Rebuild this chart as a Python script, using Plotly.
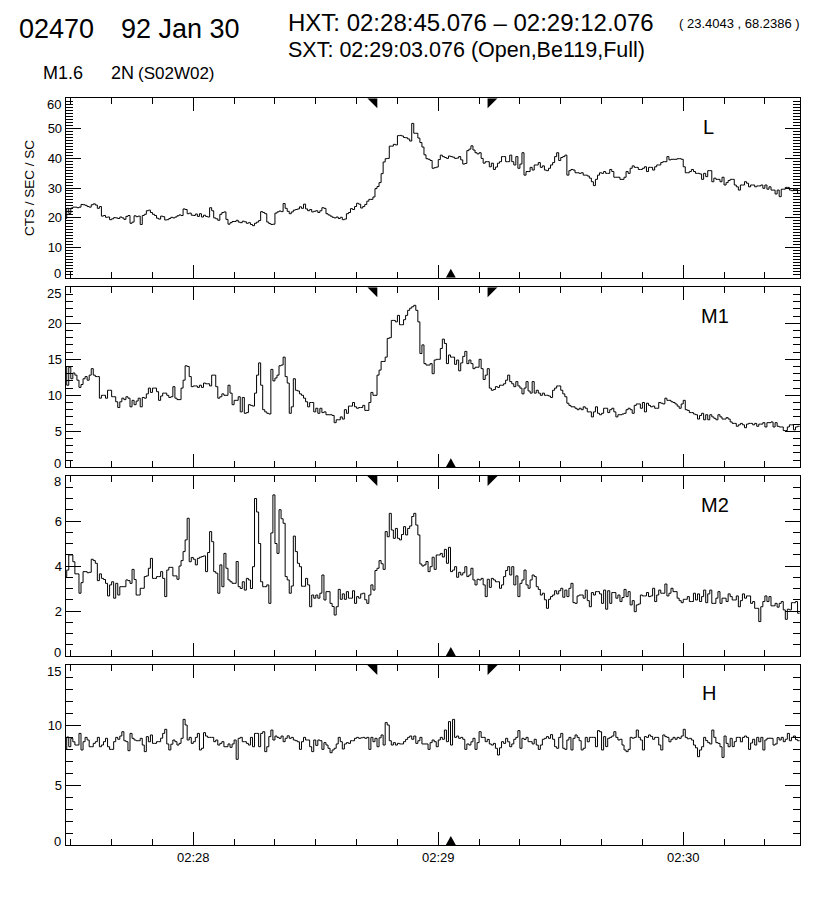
import numpy as np
import plotly.graph_objects as go

# ---------------- data ----------------
bin_start = 28.5          # seconds after 02:27:00 of first 0.5 s bin
bin_width = 0.5
x_range = [28.75, 208.6]  # seconds after 02:27:00
minute_ticks = [60, 120, 180]
minute_labels = ["02:28", "02:29", "02:30"]

hxt_start = 105.076       # 02:28:45.076
hxt_end = 132.076         # 02:29:12.076
sxt_time = 123.076        # 02:29:03.076

panel_names = ["L", "M1", "M2", "H"]
y_tops = [60, 25, 8, 15]
y_majors = [10, 5, 2, 5]
y_minors = [1, 1, 0.5, 1]

L_counts = [
    19.8, 23.2, 21.5,
    23.3, 23.6, 23.6, 23.4, 23.6, 24.5, 24.4, 24.2, 23.8, 23.6, 24.4, 24.7, 24.3, 23.2, 23.8, 20.6, 20.8, 20.2, 20.3, 19.4,
    19.7, 20.1, 20.0, 19.8, 20.3, 20.0, 19.5, 20.5, 20.8, 18.2, 18.6, 20.7, 20.4, 20.6, 17.8, 20.8, 21.2, 22.4, 22.6, 21.8,
    21.2, 20.8, 19.9, 19.6, 20.6, 20.4, 19.3, 19.4, 19.8, 20.2, 20.0, 20.3, 20.7, 21.0, 20.8, 23.0, 22.8, 21.4, 21.6, 20.9,
    20.8, 21.3, 20.5, 21.4, 20.3, 20.9, 20.5, 20.3, 23.4, 22.4, 20.0, 19.7, 19.2, 21.2, 21.8, 22.0, 19.5, 17.9, 18.4, 18.8,
    18.8, 19.2, 18.6, 18.4, 18.9, 18.7, 18.2, 18.4, 17.8, 17.4, 18.2, 18.6, 19.1, 22.1, 21.8, 21.4, 18.6, 18.1, 17.8, 17.9,
    21.6, 22.0, 22.3, 22.1, 24.8, 23.2, 22.2, 21.4, 22.0, 22.6, 22.8, 23.0, 23.7, 23.2, 24.6, 23.0, 22.4, 22.8, 22.0, 22.2,
    22.4, 21.8, 22.4, 23.4, 23.2, 21.4, 21.0, 20.6, 20.2, 20.0, 20.3, 19.8, 20.2, 19.4, 19.6, 21.4, 21.8, 23.1, 22.8, 23.8,
    24.9, 24.6, 23.3, 23.8, 24.5, 25.6, 26.2, 26.2, 27.0, 29.8, 30.5, 31.8, 34.8, 38.7, 39.8, 39.9, 44.0, 44.0, 44.6, 44.4,
    47.5, 47.6, 47.4, 46.9, 46.8, 46.4, 45.7, 51.6, 48.3, 48.3, 46.7, 45.2, 43.7, 41.1, 39.8, 39.6, 39.2, 36.6, 36.8, 37.0,
    39.5, 41.0, 40.5, 40.2, 39.9, 40.7, 40.5, 40.3, 39.9, 40.0, 40.5, 39.4, 38.0, 38.2, 42.5, 43.0, 44.1, 42.7, 41.8, 41.4,
    41.8, 39.9, 38.3, 38.8, 38.8, 37.1, 38.3, 36.2, 37.0, 38.3, 38.8, 40.5, 40.5, 38.8, 38.8, 41.0, 38.8, 37.7, 40.5, 36.6,
    38.0, 41.8, 34.3, 35.5, 35.5, 36.9, 36.0, 37.7, 37.7, 38.5, 36.9, 37.4, 36.0, 35.8, 36.6, 37.7, 38.5, 40.5, 41.8, 39.2,
    40.2, 40.5, 41.0, 34.3, 35.8, 36.2, 36.0, 35.1, 35.1, 34.9, 35.1, 34.3, 34.3, 34.0, 33.3, 32.1, 30.8, 32.9, 34.3, 35.1,
    34.9, 35.5, 34.9, 34.9, 36.2, 35.5, 33.6, 33.6, 33.6, 32.9, 32.9, 33.6, 35.5, 34.9, 36.6, 37.4, 36.9, 36.9, 36.2, 36.2,
    36.6, 37.1, 35.5, 36.9, 36.9, 36.0, 37.1, 37.7, 37.7, 38.5, 38.8, 38.8, 40.5, 39.4, 39.6, 39.6, 39.6, 39.8, 39.8, 39.6,
    37.1, 35.1, 35.1, 35.5, 36.2, 35.5, 34.9, 34.9, 34.7, 32.9, 34.9, 33.8, 35.8, 35.8, 32.1, 33.3, 32.9, 32.9, 32.1, 33.6,
    31.0, 31.8, 32.5, 32.9, 32.9, 31.0, 30.4, 29.3, 31.0, 31.0, 32.1, 31.6, 30.4, 31.0, 31.0, 30.4, 30.7, 30.7, 31.0, 29.9,
    31.0, 29.6, 30.4, 29.3, 29.3, 28.0, 29.3, 27.1, 29.6, 29.6, 30.2, 30.2, 29.3, 29.1, 29.6, 29.6, 28.2,
]

M1_counts = [
    13.9, 11.4, 13.9,
    12.3, 13.1, 12.8, 12.1, 11.1, 11.5, 12.3, 12.6, 12.1, 12.8, 13.7, 12.8, 12.6, 12.6, 9.6, 10.0, 10.0, 9.6, 10.7, 10.7,
    9.8, 9.8, 9.1, 8.3, 9.1, 9.6, 9.4, 9.8, 9.6, 8.4, 9.3, 8.7, 9.2, 9.6, 8.4, 9.7, 9.6, 10.2, 11.0, 10.4,
    11.0, 11.0, 10.5, 9.3, 9.9, 10.3, 10.3, 10.0, 9.7, 9.8, 11.2, 9.6, 9.4, 9.4, 11.0, 12.1, 14.1, 14.0, 12.6, 11.2,
    11.3, 11.3, 11.1, 11.4, 11.1, 11.7, 11.6, 11.6, 11.3, 12.8, 12.8, 11.2, 9.6, 9.8, 10.2, 10.0, 10.0, 11.4, 10.3, 8.7,
    9.3, 9.3, 9.8, 7.7, 9.7, 7.5, 7.6, 8.7, 8.6, 8.5, 10.3, 12.8, 14.5, 11.4, 8.0, 7.7, 7.5, 7.4, 13.6, 12.0,
    12.4, 12.8, 14.1, 14.2, 15.3, 12.6, 11.7, 7.5, 8.4, 12.3, 10.7, 10.6, 10.2, 10.0, 9.6, 9.1, 8.4, 9.0, 9.0, 7.7,
    8.2, 7.5, 8.2, 7.6, 7.7, 7.3, 7.3, 7.3, 7.2, 6.2, 6.6, 6.6, 7.0, 6.7, 8.0, 7.5, 8.5, 8.5, 9.0, 8.4,
    8.2, 8.3, 8.3, 8.6, 7.9, 7.9, 9.0, 10.4, 10.0, 10.0, 12.8, 13.5, 14.7, 14.7, 15.3, 17.9, 18.0, 20.4, 20.4, 20.2,
    21.1, 19.8, 19.8, 20.5, 21.1, 21.8, 22.1, 22.3, 22.5, 21.8, 20.2, 15.8, 17.0, 14.4, 14.2, 14.2, 14.4, 13.0, 14.9, 15.0,
    15.0, 16.5, 17.8, 17.2, 14.4, 15.6, 15.3, 15.3, 14.3, 14.9, 13.4, 14.5, 15.4, 16.1, 14.4, 14.9, 14.4, 13.7, 13.9, 13.9,
    15.0, 13.7, 12.2, 12.8, 13.7, 11.0, 10.7, 10.8, 11.2, 11.1, 11.4, 11.4, 11.6, 12.1, 12.8, 11.9, 11.6, 11.2, 11.9, 11.3,
    11.0, 10.2, 11.0, 11.9, 10.6, 10.3, 11.9, 10.3, 10.7, 10.3, 10.0, 10.3, 10.0, 10.0, 9.9, 9.7, 10.7, 11.0, 11.3, 11.3,
    10.7, 10.2, 9.8, 8.9, 8.6, 8.4, 8.4, 8.2, 8.0, 8.2, 8.0, 8.4, 8.2, 7.7, 7.7, 7.0, 7.7, 8.4, 7.5, 7.3,
    7.5, 8.2, 8.2, 7.6, 8.0, 8.2, 7.7, 7.0, 7.3, 7.3, 7.4, 7.5, 8.0, 8.2, 8.0, 7.5, 8.6, 8.8, 8.8, 8.2,
    9.0, 7.7, 8.9, 8.6, 8.4, 8.5, 8.2, 8.2, 9.0, 8.9, 8.8, 9.6, 9.3, 9.3, 9.1, 9.0, 8.8, 8.5, 8.2, 8.8,
    9.3, 8.0, 7.9, 7.6, 7.6, 7.4, 7.3, 6.7, 7.2, 7.5, 6.6, 7.3, 6.6, 7.3, 7.0, 6.8, 6.6, 7.3, 7.0, 6.7,
    6.7, 6.9, 6.7, 6.3, 6.1, 6.1, 5.7, 5.9, 6.1, 5.9, 5.5, 6.0, 6.1, 6.1, 5.9, 6.1, 5.7, 6.0, 6.0, 6.2,
    5.6, 6.2, 6.2, 6.3, 5.6, 6.2, 5.7, 5.6, 5.6, 5.1, 5.1, 5.6, 5.9, 5.9, 5.2, 5.6, 5.7,
]

M2_counts = [
    3.53, 3.82, 4.49,
    4.49, 4.19, 3.65, 3.65, 2.79, 3.26, 3.75, 3.75, 3.70, 3.72, 4.30, 4.24, 4.12, 3.35, 3.65, 3.45, 3.40, 3.23, 2.67, 3.16,
    3.30, 2.57, 3.23, 2.71, 3.08, 3.08, 3.08, 3.38, 3.35, 3.23, 3.85, 3.40, 2.71, 2.71, 3.01, 3.01, 3.53, 3.56, 3.90, 4.34,
    3.45, 3.45, 3.53, 3.53, 3.75, 3.45, 2.64, 3.82, 3.94, 3.94, 3.56, 3.56, 3.41, 4.00, 4.24, 4.64, 5.16, 6.12, 4.19, 4.38,
    4.30, 4.05, 4.34, 4.39, 4.42, 4.45, 3.75, 4.60, 5.53, 5.08, 3.75, 3.68, 2.79, 4.05, 3.08, 4.56, 3.90, 3.38, 3.30, 3.23,
    3.23, 4.20, 3.08, 3.00, 3.30, 2.93, 3.45, 3.38, 3.00, 3.97, 7.00, 6.40, 5.00, 3.30, 3.08, 3.08, 3.16, 2.34, 5.47, 7.16,
    5.00, 4.56, 6.50, 6.10, 5.90, 3.53, 3.38, 2.79, 3.11, 5.33, 4.64, 4.12, 3.97, 3.10, 3.10, 3.45, 3.16, 2.19, 2.71, 2.57,
    2.71, 2.57, 2.79, 3.60, 2.49, 2.86, 2.86, 2.34, 2.20, 1.82, 2.19, 2.96, 2.52, 2.76, 2.52, 2.86, 2.57, 2.57, 2.90, 2.34,
    2.64, 2.57, 2.76, 2.79, 2.50, 2.34, 2.71, 3.16, 2.93, 3.80, 3.90, 4.24, 4.10, 3.85, 5.53, 5.30, 6.34, 5.60, 5.23, 5.67,
    5.23, 5.16, 5.40, 5.75, 5.38, 5.67, 5.78, 6.20, 6.34, 5.82, 5.38, 4.09, 4.00, 4.05, 4.20, 3.75, 3.97, 4.39, 3.85, 4.49,
    4.49, 4.56, 4.40, 4.74, 4.12, 4.83, 3.75, 3.82, 3.97, 3.50, 3.72, 3.60, 3.70, 3.97, 3.53, 3.60, 3.90, 3.38, 3.16, 3.41,
    3.38, 3.45, 3.16, 2.64, 3.41, 3.05, 3.45, 3.38, 3.30, 3.30, 3.01, 3.16, 3.53, 3.80, 3.97, 3.60, 3.97, 3.16, 3.56, 2.64,
    3.23, 3.38, 3.82, 3.16, 3.01, 3.38, 3.60, 3.53, 3.08, 2.96, 2.71, 2.79, 2.50, 2.12, 2.52, 2.64, 2.71, 2.90, 2.76, 2.90,
    3.01, 2.61, 2.93, 2.64, 3.01, 3.23, 2.37, 2.34, 2.67, 2.71, 2.71, 2.57, 2.93, 2.46, 2.19, 2.82, 2.71, 2.86, 2.86, 2.76,
    2.34, 2.93, 2.08, 2.90, 2.34, 2.82, 2.82, 2.57, 2.71, 2.42, 2.60, 2.96, 2.64, 2.86, 2.27, 2.46, 1.97, 2.27, 2.31, 2.71,
    2.67, 2.67, 2.82, 2.64, 2.67, 3.01, 2.42, 2.71, 2.93, 2.79, 2.79, 3.20, 2.67, 2.79, 3.01, 2.86, 2.86, 2.57, 2.46, 2.37,
    2.52, 2.52, 2.64, 2.42, 2.42, 2.79, 2.49, 2.76, 2.42, 2.64, 2.93, 2.37, 2.76, 2.93, 2.34, 2.34, 2.57, 2.86, 2.34, 2.57,
    2.57, 2.42, 2.76, 2.64, 2.49, 2.49, 2.67, 2.19, 2.46, 2.76, 2.57, 2.67, 2.67, 2.34, 2.42, 2.12, 2.12, 1.53, 2.19, 2.42,
    2.67, 2.42, 2.64, 2.23, 2.23, 2.34, 2.17, 2.34, 2.42, 2.05, 1.63, 2.08, 2.05, 2.37, 2.37, 2.42, 1.90,
]

H_counts = [
    8.00, 9.00, 8.19,
    8.89, 8.60, 8.33, 8.33, 9.30, 7.92, 8.61, 8.97, 8.75, 8.19, 8.19, 8.47, 8.61, 8.97, 8.19, 8.33, 8.61, 8.89, 8.19, 7.97,
    7.97, 8.61, 8.97, 8.81, 9.08, 9.44, 8.69, 8.61, 7.86, 9.30, 8.89, 8.75, 8.69, 8.69, 8.89, 8.33, 7.78, 9.03, 8.60, 9.17,
    8.47, 8.47, 8.61, 8.61, 8.90, 9.30, 9.64, 8.42, 7.92, 8.40, 8.75, 8.61, 8.33, 8.47, 8.89, 10.47, 10.00, 8.75, 8.97, 8.47,
    8.61, 8.97, 9.30, 7.92, 8.06, 9.36, 9.08, 8.97, 8.97, 8.97, 8.61, 8.75, 8.33, 8.47, 8.61, 8.19, 8.19, 8.42, 8.14, 8.42,
    8.75, 7.14, 8.89, 8.97, 8.61, 8.61, 8.47, 8.33, 8.97, 8.19, 9.30, 9.30, 8.19, 9.30, 9.44, 7.78, 8.19, 9.03, 9.58, 8.75,
    9.08, 8.97, 8.89, 9.08, 8.61, 8.89, 9.10, 8.89, 8.97, 8.75, 8.69, 8.60, 7.97, 8.61, 8.97, 8.75, 8.75, 8.19, 7.78, 8.75,
    8.30, 8.75, 8.69, 7.97, 8.53, 8.33, 8.06, 7.69, 7.92, 8.06, 8.42, 8.97, 8.61, 8.00, 8.42, 8.53, 8.47, 8.69, 8.69, 8.89,
    8.97, 8.89, 8.93, 8.97, 8.89, 8.97, 7.97, 8.97, 8.61, 8.89, 8.19, 8.93, 9.17, 8.33, 10.20, 10.00, 8.69, 8.33, 8.53, 8.33,
    8.47, 8.42, 8.42, 8.61, 8.80, 8.97, 9.08, 8.81, 9.08, 8.47, 8.69, 8.97, 8.42, 8.42, 8.42, 7.97, 8.53, 8.75, 8.61, 8.19,
    8.75, 8.97, 8.81, 9.58, 8.61, 10.28, 8.33, 10.47, 8.97, 9.08, 8.89, 8.97, 8.81, 7.97, 8.42, 8.33, 8.60, 8.89, 7.97, 8.53,
    9.44, 8.97, 8.97, 8.61, 8.80, 8.42, 8.33, 8.47, 8.06, 7.50, 8.10, 8.61, 8.47, 8.89, 8.60, 8.19, 8.42, 8.81, 8.97, 9.53,
    8.06, 8.89, 8.80, 8.97, 8.61, 8.61, 8.42, 8.81, 8.33, 7.97, 8.33, 8.81, 8.89, 9.03, 8.89, 9.20, 8.81, 8.19, 8.06, 8.97,
    9.30, 8.06, 7.97, 8.75, 8.97, 7.92, 8.89, 9.17, 8.97, 8.69, 7.92, 8.06, 8.97, 8.60, 8.97, 8.97, 8.97, 8.19, 9.53, 9.44,
    7.92, 9.03, 8.20, 8.89, 8.97, 9.08, 9.44, 8.97, 8.75, 8.81, 8.33, 7.92, 7.78, 7.97, 8.97, 8.90, 8.97, 9.58, 8.97, 8.75,
    7.92, 9.03, 8.97, 9.17, 9.05, 8.81, 8.97, 8.97, 8.33, 7.92, 9.17, 9.03, 8.97, 8.60, 8.81, 8.97, 8.81, 8.97, 8.89, 9.08,
    9.64, 8.97, 8.85, 8.89, 8.75, 8.33, 8.10, 7.36, 7.92, 8.19, 8.97, 8.70, 8.53, 8.42, 9.58, 8.97, 8.53, 8.47, 8.19, 7.30,
    9.08, 8.47, 8.19, 8.89, 8.20, 8.61, 8.97, 8.97, 8.60, 8.97, 9.08, 8.97, 7.97, 8.50, 8.81, 8.33, 8.97, 8.60, 8.97, 7.92,
    8.75, 8.89, 8.90, 8.89, 8.33, 8.42, 8.95, 8.75, 8.97, 8.61, 8.81, 9.30, 8.69, 8.97, 9.08, 8.78, 8.69,
]

series = [L_counts, M1_counts, M2_counts, H_counts]

# ---------------- layout geometry (pixels) ----------------
W, HGT = 816, 900
plot_left, plot_right = 65.7, 800.0
panel_px = [(98.3, 277.7), (287.3, 467.3), (476.0, 656.0), (665.0, 845.0)]
FONT = "Liberation Sans"
TICKFONT = dict(family=FONT, size=13, color="black")

fig = go.Figure()
shapes = []
annotations = []

for i, vals in enumerate(series):
    n = i + 1
    xr = "x" if n == 1 else f"x{n}"
    yr = "y" if n == 1 else f"y{n}"
    xs = bin_start + bin_width * np.arange(len(vals) + 1)
    ys = list(vals) + [vals[-1]]
    fig.add_trace(go.Scatter(
        x=xs, y=ys, mode="lines", line=dict(shape="hv", color="black", width=1.0),
        xaxis=xr, yaxis=yr, showlegend=False, hoverinfo="skip"))

    top_px, bot_px = panel_px[i]
    major_vals = list(np.arange(0, y_tops[i] + 1e-9, y_majors[i]))
    # end labels are drawn as shifted annotations (as in the original, they sit inside the frame)
    major_text = ["" if (v == 0 or v == y_tops[i]) else f"{v:g}" for v in major_vals]

    xa = dict(
        domain=[plot_left / W, plot_right / W], anchor=yr, automargin=False,
        range=x_range, tickmode="array", tickvals=minute_ticks, ticktext=minute_labels,
        ticks="inside", ticklen=13, tickwidth=1, tickcolor="black",
        minor=dict(tickmode="linear", tick0=0, dtick=10, ticks="inside", ticklen=6,
                   tickwidth=1, tickcolor="black"),
        showline=True, linecolor="black", linewidth=1, mirror="allticks",
        showgrid=False, zeroline=False, showticklabels=(n == 4),
        tickfont=TICKFONT,
    )
    ya = dict(
        domain=[1 - bot_px / HGT, 1 - top_px / HGT], anchor=xr, automargin=False,
        range=[0, y_tops[i]], tickmode="array", tickvals=major_vals, ticktext=major_text,
        ticks="inside", ticklen=15, tickwidth=1, tickcolor="black",
        minor=dict(tickmode="linear", tick0=0, dtick=y_minors[i], ticks="inside",
                   ticklen=7.5, tickwidth=1, tickcolor="black"),
        showline=True, linecolor="black", linewidth=1, mirror="allticks",
        showgrid=False, zeroline=False, tickfont=TICKFONT,
    )
    fig.update_layout(**{("xaxis" if n == 1 else f"xaxis{n}"): xa,
                         ("yaxis" if n == 1 else f"yaxis{n}"): ya})

    for v, shift in ((y_tops[i], -6), (0, 4)):
        annotations.append(dict(text=f"{v:g}", xref="paper", yref=yr, x=plot_left / W, y=v,
                                xanchor="right", yanchor="middle", xshift=-3, yshift=shift,
                                showarrow=False, font=TICKFONT))

    # HXT start / end markers at the top, SXT marker at the bottom
    shapes.append(dict(type="path", xref=xr, yref=yr, xsizemode="pixel", ysizemode="pixel",
                       xanchor=hxt_start, yanchor=y_tops[i], path="M -10,0 L 0,0 L 0,-10 Z",
                       fillcolor="black", line=dict(width=0)))
    shapes.append(dict(type="path", xref=xr, yref=yr, xsizemode="pixel", ysizemode="pixel",
                       xanchor=hxt_end, yanchor=y_tops[i], path="M 0,0 L 10,0 L 0,-10 Z",
                       fillcolor="black", line=dict(width=0)))
    shapes.append(dict(type="path", xref=xr, yref=yr, xsizemode="pixel", ysizemode="pixel",
                       xanchor=sxt_time, yanchor=0, path="M -5,0 L 5,0 L 0,9 Z",
                       fillcolor="black", line=dict(width=0)))

# panel labels
label_px = [(708, 127), (715, 316), (715, 505), (709, 693)]
for name, (px, py) in zip(panel_names, label_px):
    annotations.append(dict(text=name, xref="paper", yref="paper", x=px / W, y=1 - py / HGT,
                            xanchor="center", yanchor="middle", showarrow=False,
                            font=dict(family=FONT, size=20, color="black")))

def hdr(text, px, py, size, anchor="left"):
    annotations.append(dict(text=text, xref="paper", yref="paper", x=px / W, y=1 - py / HGT,
                            xanchor=anchor, yanchor="middle", showarrow=False,
                            font=dict(family=FONT, size=size, color="black")))

hdr("02470", 17, 29, 27)
hdr("92 Jan 30", 119, 29, 27)
hdr("HXT: 02:28:45.076 \u2013 02:29:12.076", 286, 22, 24)
hdr("( 23.4043 , 68.2386 )", 677, 24, 13)
hdr("SXT: 02:29:03.076 (Open,Be119,Full)", 286, 50, 21.5)
hdr("M1.6", 41, 73, 18)
hdr("2N", 109, 73, 18)
hdr("(S02W02)", 136, 73, 17)

annotations.append(dict(text="CTS / SEC / SC", xref="paper", yref="paper", x=29 / W, y=1 - 188 / HGT,
                        xanchor="center", yanchor="middle", showarrow=False, textangle=-90,
                        font=dict(family=FONT, size=13.5, color="black")))

fig.update_layout(template="none", width=W, height=HGT, autosize=False,
                  margin=dict(l=0, r=0, t=0, b=0, pad=0),
                  paper_bgcolor="white", plot_bgcolor="white",
                  shapes=shapes, annotations=annotations, showlegend=False)

fig.write_html("out.html", config={"displayModeBar": False, "staticPlot": True},
               post_script="document.body.style.margin='0px';document.body.style.overflow='hidden';")
